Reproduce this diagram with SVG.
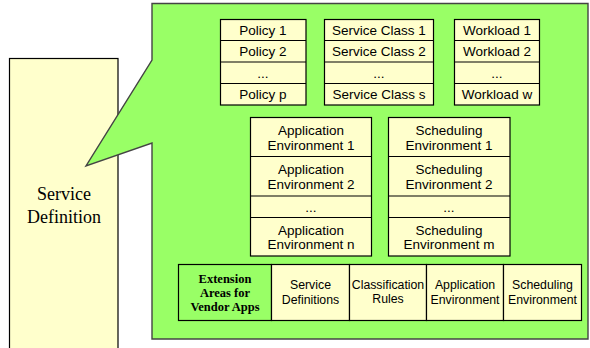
<svg xmlns="http://www.w3.org/2000/svg" width="590" height="348" viewBox="0 0 590 348">
<style>
.y{fill:#FFFFCC;stroke:#000;stroke-width:1.2}
.g{fill:#99FF66;stroke:#000;stroke-width:1.2}
.ln{stroke:#000;stroke-width:1.2;fill:none}
.t{font-family:"Liberation Sans",Arial,sans-serif;font-size:13.5px;fill:#000;text-anchor:middle}
.s{font-family:"Liberation Sans",Arial,sans-serif;font-size:12.3px;fill:#000;text-anchor:middle}
.b{font-family:"Liberation Serif","Times New Roman",serif;font-size:12.5px;font-weight:bold;fill:#000;text-anchor:middle}
.sv{font-family:"Liberation Serif","Times New Roman",serif;font-size:18px;fill:#000;text-anchor:middle}
</style>
<rect width="590" height="348" fill="#fff"/>
<g id="service-definition">
<rect class="y" x="9.5" y="58.5" width="108.5" height="300"/>
<text class="sv" x="64" y="200">Service</text>
<text class="sv" x="64" y="223">Definition</text>
</g>
<g id="callout">
<path d="M152,3.5 H588 V339 H152 V143 L86,166 L152,60 Z" fill="#99FF66" stroke="#444" stroke-width="1.4"/>
</g>
<g id="connectors"></g>
<g id="policies">
<rect class="y" x="220.5" y="19.5" width="85.5" height="85.5"/>
<path class="ln" d="M220.5,40.5H306M220.5,62H306M220.5,83.5H306"/>
<text class="t" x="263" y="34.5">Policy 1</text>
<text class="t" x="263" y="56">Policy 2</text>
<text class="t" x="263" y="77.5">...</text>
<text class="t" x="263" y="99">Policy p</text>
</g>
<g id="service-classes">
<rect class="y" x="324.5" y="19.5" width="109" height="85.5"/>
<path class="ln" d="M324.5,40.5H433.5M324.5,62H433.5M324.5,83.5H433.5"/>
<text class="t" x="379" y="34.5">Service Class 1</text>
<text class="t" x="379" y="56">Service Class 2</text>
<text class="t" x="379" y="77.5">...</text>
<text class="t" x="379" y="99">Service Class s</text>
</g>
<g id="workloads">
<rect class="y" x="454.5" y="19.5" width="85" height="85.5"/>
<path class="ln" d="M454.5,40.5H539.5M454.5,62H539.5M454.5,83.5H539.5"/>
<text class="t" x="497" y="34.5">Workload 1</text>
<text class="t" x="497" y="56">Workload 2</text>
<text class="t" x="497" y="77.5">...</text>
<text class="t" x="497" y="99">Workload w</text>
</g>
<g id="application-environments">
<rect class="y" x="250.5" y="117.5" width="121" height="138.5"/>
<path class="ln" d="M250.5,156.5H371.5M250.5,196H371.5M250.5,217.5H371.5"/>
<text class="t" x="311" y="135">Application</text>
<text class="t" x="311" y="149.5">Environment 1</text>
<text class="t" x="311" y="174">Application</text>
<text class="t" x="311" y="188.5">Environment 2</text>
<text class="t" x="311" y="211.5">...</text>
<text class="t" x="311" y="234.5">Application</text>
<text class="t" x="311" y="249">Environment n</text>
</g>
<g id="scheduling-environments">
<rect class="y" x="388.5" y="117.5" width="121.5" height="138.5"/>
<path class="ln" d="M388.5,156.5H510M388.5,196H510M388.5,217.5H510"/>
<text class="t" x="449" y="135">Scheduling</text>
<text class="t" x="449" y="149.5">Environment 1</text>
<text class="t" x="449" y="174">Scheduling</text>
<text class="t" x="449" y="188.5">Environment 2</text>
<text class="t" x="449" y="211.5">...</text>
<text class="t" x="449" y="234.5">Scheduling</text>
<text class="t" x="449" y="249">Environment m</text>
</g>
<g id="extension-areas">
<rect class="g" x="178.5" y="264.5" width="93" height="56"/>
<text class="b" x="225" y="282.5">Extension</text>
<text class="b" x="225" y="296.5">Areas for</text>
<text class="b" x="225" y="310.5">Vendor Apps</text>
</g>
<g id="service-definitions">
<rect class="y" x="271.5" y="264.5" width="78" height="56"/>
<text class="s" x="310.5" y="289">Service</text>
<text class="s" x="310.5" y="303.5">Definitions</text>
</g>
<g id="classification-rules">
<rect class="y" x="349.5" y="264.5" width="77" height="56"/>
<text class="s" x="388" y="289">Classification</text>
<text class="s" x="388" y="302.5">Rules</text>
</g>
<g id="application-environment">
<rect class="y" x="426.5" y="264.5" width="77" height="56"/>
<text class="s" x="465" y="289">Application</text>
<text class="s" x="465" y="303.5">Environment</text>
</g>
<g id="scheduling-environment">
<rect class="y" x="503.5" y="264.5" width="78" height="56"/>
<text class="s" x="542.5" y="289">Scheduling</text>
<text class="s" x="542.5" y="303.5">Environment</text>
</g>
</svg>
